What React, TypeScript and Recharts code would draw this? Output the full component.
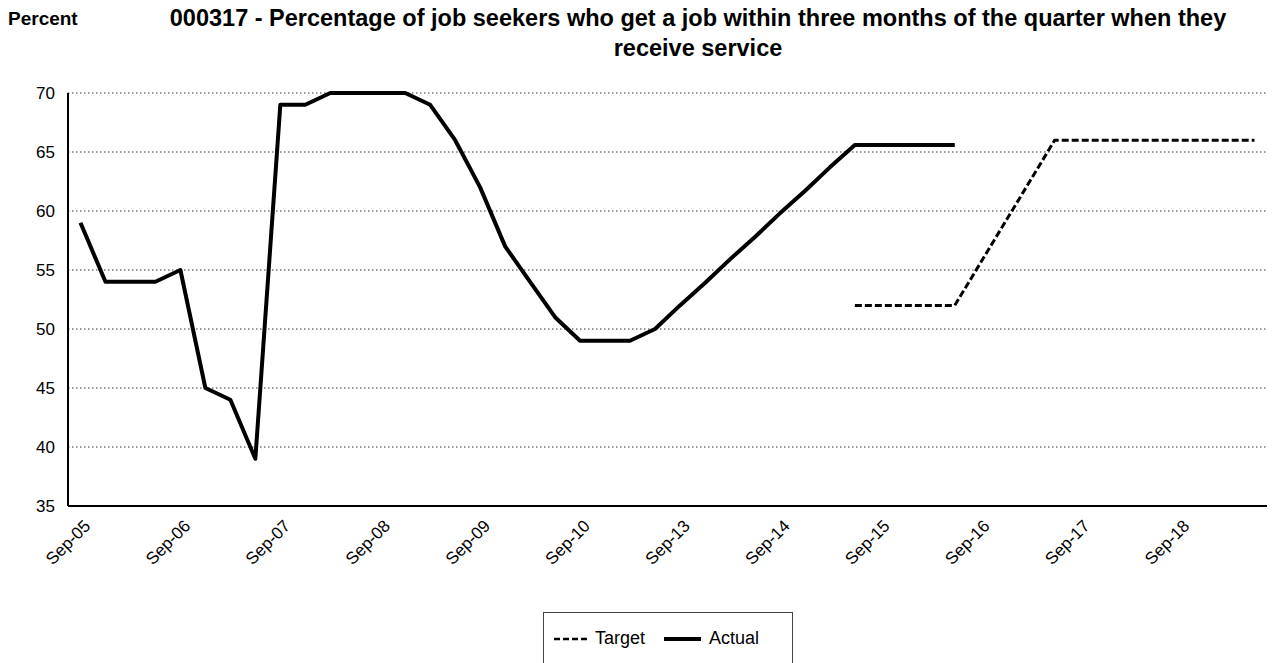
import { CartesianGrid, Line, LineChart, XAxis, YAxis } from 'recharts'

const YEAR_TICKS = ['Sep-05', 'Sep-06', 'Sep-07', 'Sep-08', 'Sep-09', 'Sep-10', 'Sep-13', 'Sep-14', 'Sep-15', 'Sep-16', 'Sep-17', 'Sep-18']

// quarterly actual results, from Sep-05 onward
const ACTUAL = [
  59, 54, 54, 54, 55, 45, 44, 39, 69, 69, 70, 70, 70, 70, 69, 66, 62, 57,
  54, 51, 49, 49, 49, 50, 52, 53.9, 55.9, 57.8, 59.8, 61.7, 63.7, 65.6, 65.6, 65.6, 65.6, 65.6,
]

// targets start at Jun-15
const TARGET_FROM = 'Jun-15'
const TARGET = [52, 52, 52, 52, 52, 55.5, 59, 62.5, 66, 66, 66, 66, 66, 66, 66, 66, 66]

const Y_TICKS = [35, 40, 45, 50, 55, 60, 65, 70]

const FONT = '"Liberation Sans", Arial, Helvetica, sans-serif'

// each labelled Sep tick is followed by three hidden quarters
function quarters(tick: string) {
  const yy = Number(tick.slice(4))
  const next = String(yy + 1).padStart(2, '0')
  return [tick, `Dec-${tick.slice(4)}`, `Mar-${next}`, `Jun-${next}`]
}

const QUARTERS = YEAR_TICKS.flatMap(quarters)
const targetStart = QUARTERS.indexOf(TARGET_FROM)

const data = QUARTERS.map((q, i) => ({
  q,
  actual: i < ACTUAL.length ? ACTUAL[i] : null,
  target: i >= targetStart && i - targetStart < TARGET.length ? TARGET[i - targetStart] : null,
}))

function XTick({ x, y, payload }: { x?: number; y?: number; payload?: { value: string } }) {
  const ax = (x ?? 0) + 11
  const ay = (y ?? 0) + 13
  return (
    <text
      x={ax}
      y={ay}
      transform={`rotate(-45 ${ax} ${ay})`}
      textAnchor="end"
      fontSize={17}
      fontFamily={FONT}
      fill="#000"
    >
      {payload?.value}
    </text>
  )
}

export default function App() {
  return (
    <div style={{ position: 'absolute', left: 0, top: 0, width: 1277, height: 663, background: '#fff', fontFamily: FONT, overflow: 'hidden' }}>
      <div style={{ position: 'absolute', left: 8, top: 4, fontSize: 19, fontWeight: 700, lineHeight: '30px' }}>Percent</div>
      <div
        style={{
          position: 'absolute',
          left: 98,
          top: 3,
          width: 1200,
          fontSize: 23.5,
          fontWeight: 700,
          lineHeight: '30px',
          textAlign: 'center',
          whiteSpace: 'nowrap',
        }}
      >
        000317 - Percentage of job seekers who get a job within three months of the quarter when they
        <br />
        receive service
      </div>

      <div style={{ position: 'absolute', left: 0, top: 0 }}>
        <LineChart width={1277} height={663} data={data} margin={{ top: 93, right: 10, bottom: 97, left: 8 }}>
          <CartesianGrid vertical={false} stroke="#333" strokeDasharray="1.5 2.5" />
          <XAxis
            dataKey="q"
            scale="band"
            interval={3}
            tickLine={false}
            axisLine={{ stroke: '#000', strokeWidth: 2 }}
            tick={<XTick />}
            height={60}
          />
          <YAxis
            domain={[35, 70]}
            ticks={Y_TICKS}
            tickLine={false}
            tickMargin={7}
            axisLine={{ stroke: '#000', strokeWidth: 2 }}
            tick={{ fontSize: 17, fill: '#000', fontFamily: FONT }}
            width={60}
          />
          <YAxis
            yAxisId="edge"
            orientation="right"
            domain={[35, 70]}
            tick={false}
            tickLine={false}
            axisLine={{ stroke: '#777', strokeWidth: 1.5 }}
            width={0}
          />
          <Line
            dataKey="target"
            stroke="#000"
            strokeWidth={3}
            strokeDasharray="7 3"
            dot={false}
            isAnimationActive={false}
          />
          <Line
            dataKey="actual"
            stroke="#000"
            strokeWidth={4}
            strokeLinejoin="round"
            dot={false}
            isAnimationActive={false}
          />
        </LineChart>
      </div>

      <div
        style={{
          position: 'absolute',
          left: 543,
          top: 612,
          width: 248,
          height: 70,
          border: '1px solid #444',
          fontSize: 18,
        }}
      >
        <svg width={36} height={6} style={{ position: 'absolute', left: 10, top: 23 }}>
          <line x1={0} y1={3} x2={36} y2={3} stroke="#000" strokeWidth={2.5} strokeDasharray="6 3" />
        </svg>
        <span style={{ position: 'absolute', left: 51, top: 15 }}>Target</span>
        <svg width={37} height={6} style={{ position: 'absolute', left: 120, top: 23 }}>
          <line x1={0} y1={3} x2={37} y2={3} stroke="#000" strokeWidth={4} />
        </svg>
        <span style={{ position: 'absolute', left: 165, top: 15 }}>Actual</span>
      </div>
    </div>
  )
}
